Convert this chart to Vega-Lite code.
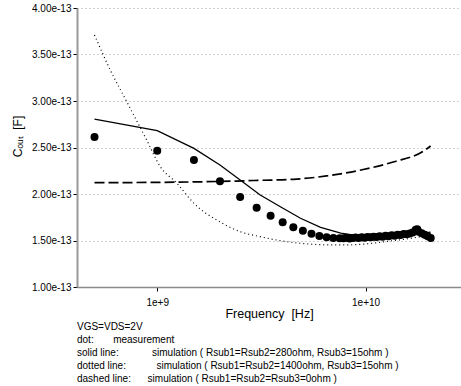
{
  "$schema": "https://vega.github.io/schema/vega-lite/v6.json",
  "autosize": {"type": "none"},
  "width": 384,
  "height": 279,
  "padding": {"left": 77, "top": 8, "right": 0, "bottom": 99},
  "background": "white",
  "config": {
    "font": "Liberation Sans",
    "view": {"stroke": null},
    "axis": {"labelFont": "Liberation Sans", "titleFont": "Liberation Sans", "labelColor": "black", "titleColor": "black", "titleFontWeight": "normal"}
  },
  "title": {
    "text": ["VGS=VDS=2V", "dot:\u00a0\u00a0\u00a0\u00a0\u00a0\u00a0\u00a0measurement", "solid line:\u00a0\u00a0\u00a0\u00a0\u00a0\u00a0\u00a0\u00a0\u00a0\u00a0\u00a0\u00a0simulation ( Rsub1=Rsub2=280ohm, Rsub3=15ohm )", "dotted line:\u00a0\u00a0\u00a0\u00a0\u00a0\u00a0\u00a0\u00a0\u00a0\u00a0\u00a0simulation ( Rsub1=Rsub2=1400ohm, Rsub3=15ohm )", "dashed line:\u00a0\u00a0\u00a0\u00a0\u00a0\u00a0simulation ( Rsub1=Rsub2=Rsub3=0ohm )"],
    "orient": "bottom",
    "anchor": "start",
    "frame": "group",
    "font": "Liberation Sans",
    "fontSize": 10,
    "fontWeight": "normal",
    "lineHeight": 13,
    "offset": 2,
    "color": "black"
  },
  "datasets": {
    "meas": [
      {"f": 5.0e8, "c": 2.613e-13}, {"f": 1.0e9, "c": 2.466e-13}, {"f": 1.5e9, "c": 2.366e-13}, {"f": 2.0e9, "c": 2.137e-13},
      {"f": 2.5e9, "c": 1.968e-13}, {"f": 3.0e9, "c": 1.853e-13}, {"f": 3.5e9, "c": 1.767e-13}, {"f": 4.0e9, "c": 1.696e-13},
      {"f": 4.5e9, "c": 1.642e-13}, {"f": 5.0e9, "c": 1.605e-13}, {"f": 5.5e9, "c": 1.573e-13}, {"f": 6.0e9, "c": 1.548e-13},
      {"f": 6.5e9, "c": 1.534e-13}, {"f": 7.0e9, "c": 1.527e-13}, {"f": 7.5e9, "c": 1.523e-13},
      {"f": 7.84e9, "c": 1.525e-13}, {"f": 8.10e9, "c": 1.530e-13}, {"f": 8.38e9, "c": 1.522e-13}, {"f": 8.66e9, "c": 1.528e-13},
      {"f": 8.95e9, "c": 1.533e-13}, {"f": 9.25e9, "c": 1.527e-13}, {"f": 9.57e9, "c": 1.535e-13}, {"f": 9.89e9, "c": 1.530e-13},
      {"f": 1.022e10, "c": 1.538e-13}, {"f": 1.057e10, "c": 1.534e-13}, {"f": 1.093e10, "c": 1.541e-13}, {"f": 1.129e10, "c": 1.537e-13},
      {"f": 1.168e10, "c": 1.545e-13}, {"f": 1.207e10, "c": 1.541e-13}, {"f": 1.248e10, "c": 1.550e-13}, {"f": 1.290e10, "c": 1.546e-13},
      {"f": 1.334e10, "c": 1.556e-13}, {"f": 1.379e10, "c": 1.552e-13}, {"f": 1.425e10, "c": 1.562e-13}, {"f": 1.474e10, "c": 1.558e-13},
      {"f": 1.523e10, "c": 1.570e-13}, {"f": 1.575e10, "c": 1.566e-13}, {"f": 1.628e10, "c": 1.575e-13}, {"f": 1.683e10, "c": 1.585e-13},
      {"f": 1.740e10, "c": 1.615e-13}, {"f": 1.770e10, "c": 1.622e-13}, {"f": 1.798e10, "c": 1.595e-13}, {"f": 1.859e10, "c": 1.578e-13},
      {"f": 1.922e10, "c": 1.562e-13}, {"f": 1.987e10, "c": 1.545e-13}, {"f": 2.054e10, "c": 1.528e-13}
    ],
    "solid": [
      {"f": 5.0e8, "c": 2.806e-13}, {"f": 1.0e9, "c": 2.681e-13}, {"f": 1.5e9, "c": 2.491e-13}, {"f": 2.0e9, "c": 2.312e-13},
      {"f": 2.5e9, "c": 2.151e-13}, {"f": 3.12e9, "c": 1.989e-13}, {"f": 3.9e9, "c": 1.863e-13}, {"f": 4.87e9, "c": 1.739e-13},
      {"f": 6.08e9, "c": 1.642e-13}, {"f": 7.6e9, "c": 1.58e-13}, {"f": 9.47e9, "c": 1.548e-13}, {"f": 1.3e10, "c": 1.548e-13},
      {"f": 1.7e10, "c": 1.565e-13}, {"f": 2.05e10, "c": 1.59e-13}
    ],
    "dotted": [
      {"f": 5.0e8, "c": 3.71e-13}, {"f": 5.95e8, "c": 3.333e-13}, {"f": 7.15e8, "c": 2.99e-13}, {"f": 8.9e8, "c": 2.58e-13},
      {"f": 1.034e9, "c": 2.294e-13}, {"f": 1.244e9, "c": 2.115e-13}, {"f": 1.5e9, "c": 1.90e-13}, {"f": 2.0e9, "c": 1.70e-13},
      {"f": 2.5e9, "c": 1.595e-13}, {"f": 3.12e9, "c": 1.541e-13}, {"f": 3.9e9, "c": 1.498e-13}, {"f": 4.87e9, "c": 1.47e-13},
      {"f": 6.08e9, "c": 1.455e-13}, {"f": 7.6e9, "c": 1.452e-13}, {"f": 9.5e9, "c": 1.459e-13}, {"f": 1.37e10, "c": 1.50e-13},
      {"f": 1.55e10, "c": 1.515e-13}, {"f": 2.0e10, "c": 1.555e-13}
    ],
    "dashed": [
      {"f": 5.0e8, "c": 2.122e-13}, {"f": 1.0e9, "c": 2.125e-13}, {"f": 2.0e9, "c": 2.135e-13}, {"f": 3.12e9, "c": 2.147e-13},
      {"f": 4.5e9, "c": 2.158e-13}, {"f": 6.5e9, "c": 2.194e-13}, {"f": 9.5e9, "c": 2.258e-13}, {"f": 1.37e10, "c": 2.347e-13},
      {"f": 1.9e10, "c": 2.462e-13}, {"f": 2.05e10, "c": 2.516e-13}
    ]
  },
  "encoding": {
    "x": {
      "field": "f", "type": "quantitative",
      "scale": {"type": "log", "domain": [4.12e8, 2.87e10], "nice": false, "zero": false},
      "axis": {
        "values": [1e9, 1e10], "format": ".0e", "grid": false,
        "domainColor": "#8a8a8a", "domainWidth": 1.5,
        "tickColor": "black", "tickSize": 4, "labelFontSize": 10, "labelPadding": 6,
        "title": "Frequency\u00a0\u00a0[Hz]", "titleFontSize": 12.5, "titlePadding": 0
      }
    },
    "y": {
      "field": "c", "type": "quantitative",
      "scale": {"domain": [1e-13, 4e-13], "nice": false, "zero": false},
      "axis": {
        "values": [1e-13, 1.5e-13, 2e-13, 2.5e-13, 3e-13, 3.5e-13, 4e-13], "format": ".2e",
        "grid": true, "gridDash": [1, 3], "gridColor": "#a0a0a0", "gridWidth": 1,
        "domainColor": "#9a9a9a", "domainWidth": 2,
        "tickColor": "black", "tickSize": 4, "labelFontSize": 10, "labelPadding": 2,
        "title": "Cₒᵤₜ\u00a0\u00a0[F]", "titleFontSize": 12, "titleAngle": -90, "titleX": -60, "titleY": 128,
        "titleAlign": "center", "titleBaseline": "middle"
      }
    }
  },
  "layer": [
    {"mark": {"type": "rule", "color": "black", "strokeWidth": 1.5}, "encoding": {"y": {"datum": 4e-13}, "x": null}},
    {"data": {"name": "dashed"}, "mark": {"type": "line", "color": "black", "strokeWidth": 1.7, "strokeDash": [10, 4], "interpolate": "monotone"}},
    {"data": {"name": "dotted"}, "mark": {"type": "line", "color": "black", "strokeWidth": 1.2, "strokeDash": [1, 3], "interpolate": "monotone"}},
    {"data": {"name": "solid"}, "mark": {"type": "line", "color": "black", "strokeWidth": 1.3}},
    {"data": {"name": "meas"}, "mark": {"type": "point", "filled": true, "color": "black", "opacity": 1, "size": 64}}
  ]
}
